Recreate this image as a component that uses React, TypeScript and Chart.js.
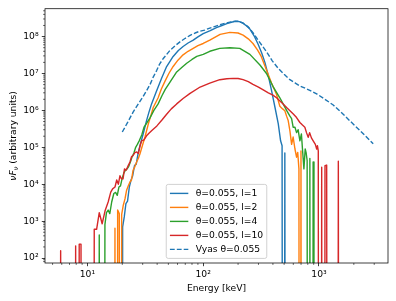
import React, { useEffect, useRef } from "react";
import { Chart, registerables } from "chart.js";

Chart.register(...registerables);

const FONT = '"DejaVu Sans", sans-serif';
const FS = 9.2;

// ---- data (energy in keV, nuF_nu in arbitrary units; 0 = empty bin) ----
const energyL1 = [
  19.7, 20.14, 20.8, 21.5, 22.2, 23.0, 23.8, 24.6, 25.5, 26.4,
  27.5, 28.8, 30.3, 32.4, 34.0, 35.8, 39.0, 43.7, 48.3, 55.0,
  61.0, 67.0, 74.0, 82.0, 90.0, 100, 115, 130, 145, 160,
  175, 190, 205, 220, 237, 253, 275, 298, 320, 341,
  364, 389, 417, 445, 466, 480, 494, 507, 522,
];
const fluxL1 = [
  0, 700, 1300, 3000, 3500, 8400, 1.3e4, 1.7e4, 3.2e4, 3.5e4,
  7.4e4, 1.3e5, 2.3e5, 5.3e5, 9e5, 1.5e6, 3e6, 7.4e6, 1.54e7, 2.9e7,
  4.2e7, 5.4e7, 6.7e7, 8e7, 9.8e7, 1.2e8, 1.45e8, 1.75e8, 2e8, 2.25e8,
  2.45e8, 2.6e8, 2.55e8, 2.3e8, 1.95e8, 1.6e8, 1.05e8, 6.2e7, 3.6e7, 2e7,
  9e6, 3.5e6, 1.2e6, 4.3e5, 1.5e5, 1.1e5, 0, 7e4, 0,
];

const energyL2 = [
  16.7, 17.29, 17.88, 18.24, 18.84, 19.3, 19.75, 20.4, 21.1, 21.8,
  22.5, 23.3, 24.0, 24.8, 25.7, 26.6, 27.5, 28.4, 29.8, 31.4,
  33.5, 35.2, 37.0, 40.8, 43.5, 46.7, 50.5, 55.0, 60.5, 67.0,
  74.0, 82.0, 90.0, 100, 114, 140, 170, 200, 221, 245,
  269, 295, 317, 352, 389, 430, 459, 485, 507, 525,
  542, 561, 580, 598, 620, 640, 655, 671, 685, 699,
  715,
];
const fluxL2 = [
  0, 640, 0, 2000, 1600, 0, 1500, 2700, 4000, 6900,
  9000, 1.15e4, 1.3e4, 2.4e4, 3e4, 4e4, 5e4, 6.6e4, 1.1e5, 1.9e5,
  4.2e5, 7e5, 1.2e6, 2.2e6, 3.8e6, 6.1e6, 1e7, 1.55e7, 2.3e7, 3.2e7,
  4e7, 4.8e7, 5.7e7, 6.5e7, 8e7, 1.15e8, 1.3e8, 1.25e8, 1.1e8, 8.7e7,
  6.5e7, 4.3e7, 2.9e7, 1.25e7, 5.5e6, 2.7e6, 1.3e6, 1.1e6, 9.8e5, 7e5,
  5.3e5, 2.8e5, 1.2e5, 1.9e5, 9e4, 5.4e4, 7.3e4, 2.6e4, 0, 8e4,
  0,
];

const energyL4 = [
  12.2, 12.65, 13.1, 13.7, 14.16, 14.6, 15.1, 15.6, 16.2, 16.9,
  17.5, 18.1, 18.7, 19.3, 19.9, 20.6, 21.3, 22.0, 22.7, 23.5,
  24.3, 25.2, 26.1, 27.0, 28.0, 29.5, 30.8, 32.5, 34.7, 37.5,
  40.8, 44.0, 47.0, 52.0, 59.0, 66.0, 72.0, 80.0, 88.0, 100,
  114, 139, 170, 207, 253, 309, 352, 400, 459, 490,
  525, 561, 580, 598, 620, 640, 660, 684, 705, 720,
  741, 760, 775, 790, 805, 820, 834, 850, 875, 890,
  905,
];
const fluxL4 = [
  0, 420, 0, 0, 800, 1700, 2000, 1600, 3300, 5600,
  6000, 5000, 8400, 9000, 1.4e4, 2e4, 2.4e4, 2.6e4, 3e4, 4e4,
  5.5e4, 7e4, 1e5, 1.2e5, 1.5e5, 2.2e5, 3.5e5, 4.5e5, 6.3e5, 1e6,
  1.5e6, 2.5e6, 3.7e6, 6e6, 1.1e7, 1.5e7, 1.9e7, 2.4e7, 2.9e7, 3.3e7,
  4e7, 4.8e7, 5e7, 4.8e7, 3.3e7, 1.7e7, 1e7, 4.5e6, 2.2e6, 1.5e6,
  1e6, 7e5, 6e5, 3.5e5, 3.5e5, 2.5e5, 3e5, 1.5e5, 2.3e5, 9e4,
  2.6e4, 9e4, 7e4, 4.4e4, 0, 0, 5e4, 0, 0, 4e4,
  0,
];

const energyL10 = [
  5.68, 5.87, 6.07, 7.65, 7.91, 8.2, 8.49, 8.8, 9.1, 11.1,
  11.45, 12.0, 12.65, 13.4, 14.2, 15.1, 15.9, 16.5, 17.3, 17.9,
  18.5, 19.1, 19.7, 20.3, 20.9, 21.6, 22.5, 23.3, 24.0, 24.8,
  25.7, 26.6, 27.5, 28.5, 29.4, 30.8, 32.4, 34.0, 35.8, 39.8,
  44.0, 48.3, 53.0, 59.0, 67.0, 77.0, 94.0, 114, 139, 160,
  181, 200, 221, 245, 269, 300, 330, 365, 400, 430,
  460, 490, 525, 561, 600, 640, 684, 720, 755, 780,
  807, 830, 860, 891, 930, 955, 970, 986, 1005, 1035,
  1055, 1075, 1105, 1127, 1165, 1195, 1430, 1469, 1510,
];
const fluxL10 = [
  0, 157, 0, 0, 214, 0, 238, 238, 0, 0,
  600, 600, 1700, 850, 1900, 3300, 6100, 7500, 8400, 1.3e4,
  1e4, 1.7e4, 1.4e4, 1.4e4, 2.6e4, 2.4e4, 3.2e4, 4e4, 5.5e4, 6e4,
  7.2e4, 7.5e4, 6.8e4, 1.1e5, 1.5e5, 1.6e5, 2.05e5, 2.4e5, 2.8e5, 3.8e5,
  5.5e5, 7.9e5, 1.1e6, 1.5e6, 2.1e6, 2.9e6, 4.3e6, 5.5e6, 6.8e6, 7.2e6,
  7.4e6, 7.3e6, 6.8e6, 6e6, 5.1e6, 4.3e6, 3.6e6, 3e6, 2.6e6, 2.2e6,
  1.8e6, 1.5e6, 1.2e6, 9.8e5, 8e5, 6.4e5, 4.7e5, 4e5, 3.5e5, 2.5e5,
  1.86e5, 2.5e5, 1.8e5, 1.5e5, 1.2e5, 9e4, 1.1e5, 8e4, 0, 0,
  2.9e4, 0, 0, 3.2e4, 3.3e4, 0, 0, 4.2e4, 0,
];

const energyVyas = [
  20, 22.3, 24.8, 27.5, 30.3, 32.4, 34.7, 37.0, 39.6, 42.0,
  45.0, 51.5, 57.0, 63.0, 70.0, 77.0, 85.0, 93.5, 103, 114,
  127, 140, 155, 170, 185, 200, 220, 245, 270, 298,
  325, 352, 395, 444, 500, 561, 620, 684, 760, 833,
  955, 1100, 1327, 1550, 1850, 2300, 2940,
];
const fluxVyas = [
  2.6e5, 4.8e5, 9e5, 1.5e6, 2.4e6, 3.4e6, 5e6, 8e6, 1.2e7, 1.8e7,
  2.5e7, 4.2e7, 5.6e7, 7.2e7, 9e7, 1.08e8, 1.25e8, 1.4e8, 1.5e8, 1.7e8,
  1.9e8, 2.1e8, 2.3e8, 2.45e8, 2.58e8, 2.6e8, 2.35e8, 1.84e8, 1.25e8, 8e7,
  5.5e7, 3.9e7, 2.2e7, 1.38e7, 9.5e6, 6.8e6, 5.6e6, 4.6e6, 4e6, 3.5e6,
  2.8e6, 2.1e6, 1.4e6, 9e5, 5.2e5, 2.7e5, 1.25e5,
];

const seriesLabels = [
  "θ=0.055, l=1",
  "θ=0.055, l=2",
  "θ=0.055, l=4",
  "θ=0.055, l=10",
  "Vyas θ=0.055",
];
const seriesColors = ["#1f77b4", "#ff7f0e", "#2ca02c", "#d62728", "#1f77b4"];

const xTickValues = [10, 100, 1000];
const yTickValues = [1e2, 1e3, 1e4, 1e5, 1e6, 1e7, 1e8];
const X_MIN = 4.3;
const X_MAX = 3945;
const Y_MIN = 73.4;
const Y_MAX = 5.69e8;

const X_TITLE = "Energy [keV]";
const DASH = [4.8, 2.1];

const SUP: Record<string, string> = {
  "0": "⁰", "1": "¹", "2": "²", "3": "³", "4": "⁴",
  "5": "⁵", "6": "⁶", "7": "⁷", "8": "⁸", "9": "⁹", "-": "⁻",
};
function powLabel(v: number): string {
  const e = Math.round(Math.log10(v));
  return "10" + String(e).split("").map((c) => SUP[c]).join("");
}

// empty bins -> vanishingly small value so the log axis clips them like matplotlib
function toPoints(es: number[], fs: number[]) {
  return es.map((e, i) => ({ x: e, y: fs[i] > 0 ? fs[i] : 1e-30 }));
}

const decorPlugin = {
  id: "decor",
  afterDraw(chart: any) {
    const { ctx, chartArea: a, scales } = chart;
    const xs = scales.x;
    const ys = scales.y;
    ctx.save();

    // minor ticks
    ctx.strokeStyle = "#000";
    ctx.lineWidth = 0.6;
    for (let d = 0; d <= 3; d++) {
      for (let k = 2; k <= 9; k++) {
        const v = k * Math.pow(10, d);
        if (v <= X_MIN || v >= X_MAX) continue;
        const px = xs.getPixelForValue(v);
        ctx.beginPath();
        ctx.moveTo(px, a.bottom);
        ctx.lineTo(px, a.bottom + 1.9);
        ctx.stroke();
      }
    }
    for (let d = 1; d <= 8; d++) {
      for (let k = 2; k <= 9; k++) {
        const v = k * Math.pow(10, d);
        if (v <= Y_MIN || v >= Y_MAX) continue;
        const py = ys.getPixelForValue(v);
        ctx.beginPath();
        ctx.moveTo(a.left, py);
        ctx.lineTo(a.left - 1.9, py);
        ctx.stroke();
      }
    }

    // frame
    ctx.lineWidth = 0.75;
    ctx.strokeRect(a.left, a.top, a.right - a.left, a.bottom - a.top);

    // x title
    ctx.fillStyle = "#000";
    ctx.font = `${FS}px ${FONT}`;
    ctx.textAlign = "center";
    ctx.textBaseline = "alphabetic";
    ctx.fillText(X_TITLE, (a.left + a.right) / 2, a.bottom + 28);

    // y title: ν F_ν (arbitrary units)
    const parts = [
      { t: "νF", font: `italic ${FS}px ${FONT}`, dy: 0 },
      { t: "ν", font: `italic ${FS * 0.7}px ${FONT}`, dy: 2 },
      { t: " (arbitrary units)", font: `${FS}px ${FONT}`, dy: 0 },
    ];
    let total = 0;
    const ws = parts.map((p) => {
      ctx.font = p.font;
      const w = ctx.measureText(p.t).width;
      total += w;
      return w;
    });
    ctx.save();
    ctx.translate(15.5, (a.top + a.bottom) / 2);
    ctx.rotate(-Math.PI / 2);
    ctx.textAlign = "left";
    let cx = -total / 2;
    parts.forEach((p, i) => {
      ctx.font = p.font;
      ctx.fillText(p.t, cx, p.dy);
      cx += ws[i];
    });
    ctx.restore();

    // legend (lower center, inside axes)
    ctx.font = `${FS}px ${FONT}`;
    const pad = 0.4 * FS;
    const handleLen = 2 * FS;
    const handlePad = 0.8 * FS;
    const rowH = 14;
    const maxW = Math.max(...seriesLabels.map((l) => ctx.measureText(l).width));
    const boxW = pad * 2 + handleLen + handlePad + maxW;
    const boxH = rowH * (seriesLabels.length - 1) + 18;
    const bx = (a.left + a.right) / 2 - boxW / 2;
    const by = a.bottom - 0.5 * FS - boxH;
    const r = 2;
    ctx.beginPath();
    ctx.moveTo(bx + r, by);
    ctx.lineTo(bx + boxW - r, by);
    ctx.quadraticCurveTo(bx + boxW, by, bx + boxW, by + r);
    ctx.lineTo(bx + boxW, by + boxH - r);
    ctx.quadraticCurveTo(bx + boxW, by + boxH, bx + boxW - r, by + boxH);
    ctx.lineTo(bx + r, by + boxH);
    ctx.quadraticCurveTo(bx, by + boxH, bx, by + boxH - r);
    ctx.lineTo(bx, by + r);
    ctx.quadraticCurveTo(bx, by, bx + r, by);
    ctx.closePath();
    ctx.fillStyle = "rgba(255,255,255,0.8)";
    ctx.fill();
    ctx.strokeStyle = "#cccccc";
    ctx.lineWidth = 0.9;
    ctx.stroke();

    seriesLabels.forEach((label, i) => {
      const cy = by + 9 + rowH * i;
      ctx.beginPath();
      ctx.strokeStyle = seriesColors[i];
      ctx.lineWidth = 1.4;
      ctx.setLineDash(i === 4 ? DASH : []);
      ctx.moveTo(bx + pad, cy);
      ctx.lineTo(bx + pad + handleLen, cy);
      ctx.stroke();
      ctx.setLineDash([]);
      ctx.fillStyle = "#000";
      ctx.textAlign = "left";
      ctx.textBaseline = "middle";
      ctx.fillText(label, bx + pad + handleLen + handlePad, cy);
    });

    ctx.restore();
  },
};

export default function App() {
  const ref = useRef<HTMLCanvasElement>(null);

  useEffect(() => {
    const energies = [energyL1, energyL2, energyL4, energyL10, energyVyas];
    const fluxes = [fluxL1, fluxL2, fluxL4, fluxL10, fluxVyas];
    const datasets = energies.map((es, i) => ({
      label: seriesLabels[i],
      data: toPoints(es, fluxes[i]),
      borderColor: seriesColors[i],
      backgroundColor: seriesColors[i],
      borderWidth: 1.4,
      borderDash: i === 4 ? DASH : [],
      borderJoinStyle: "round" as const,
      pointRadius: 0,
      fill: false,
      tension: 0,
      clip: 0,
      order: 4 - i,
    }));

    const tickFont = { family: FONT, size: FS };
    const chart = new Chart(ref.current as HTMLCanvasElement, {
      type: "line",
      data: { datasets },
      options: {
        animation: false,
        responsive: false,
        devicePixelRatio: 1,
        events: [],
        layout: { padding: { left: 0, right: 8, top: 7, bottom: 0 } },
        plugins: { legend: { display: false }, tooltip: { enabled: false } },
        scales: {
          x: {
            type: "logarithmic",
            min: X_MIN,
            max: X_MAX,
            afterFit: (s: any) => {
              s.height = 38;
            },
            afterBuildTicks: (s: any) => {
              s.ticks = xTickValues.map((v) => ({ value: v }));
            },
            ticks: {
              callback: (v: any) => powLabel(Number(v)),
              font: tickFont,
              color: "#000",
              padding: 3.2,
              maxRotation: 0,
              autoSkip: false,
            },
            grid: {
              display: true,
              drawOnChartArea: false,
              drawTicks: true,
              tickLength: 3.2,
              tickWidth: 0.75,
              tickColor: "#000",
            },
            border: { display: false },
          },
          y: {
            type: "logarithmic",
            min: Y_MIN,
            max: Y_MAX,
            afterFit: (s: any) => {
              s.width = 45;
            },
            afterBuildTicks: (s: any) => {
              s.ticks = yTickValues.map((v) => ({ value: v }));
            },
            ticks: {
              callback: (v: any) => powLabel(Number(v)),
              font: tickFont,
              color: "#000",
              padding: 3.2,
              autoSkip: false,
            },
            grid: {
              display: true,
              drawOnChartArea: false,
              drawTicks: true,
              tickLength: 3.2,
              tickWidth: 0.75,
              tickColor: "#000",
            },
            border: { display: false },
          },
        },
      },
      plugins: [decorPlugin],
    } as any);

    return () => chart.destroy();
  }, []);

  return (
    <div style={{ position: "absolute", left: 0, top: 0, width: 396, height: 301 }}>
      <canvas ref={ref} width={396} height={301} style={{ display: "block", width: 396, height: 301 }} />
    </div>
  );
}
